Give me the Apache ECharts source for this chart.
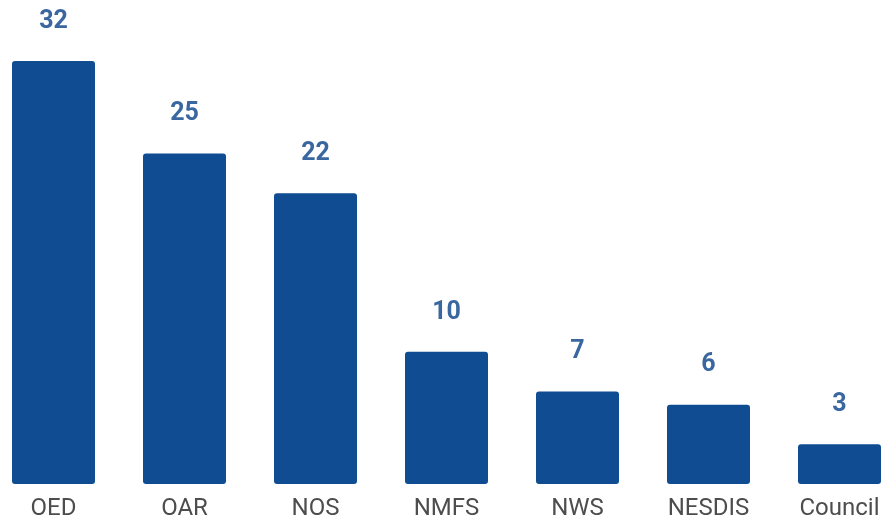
<!DOCTYPE html>
<html><head><meta charset="utf-8">
<script src="https://cdn.jsdelivr.net/npm/echarts@6/dist/echarts.min.js"></script>
<style>html,body{margin:0;padding:0;background:#fff;overflow:hidden;width:886px;height:525px}#c{width:917px;height:525px;margin-left:-12px}</style>
</head><body><div id="c"></div>
<script>
const categories = ["OED", "OAR", "NOS", "NMFS", "NWS", "NESDIS", "Council"];
const values = [32, 25, 22, 10, 7, 6, 3];
const chart = echarts.init(document.getElementById('c'));
chart.setOption({
  animation: false,
  grid: { left: 0, right: 0, top: 61, bottom: 41, containLabel: false },
  xAxis: {
    type: 'category', data: categories,
    axisLine: { show: false }, axisTick: { show: false },
    axisLabel: { color: '#4d4d4d', fontFamily: 'Roboto', fontSize: 24, margin: 13 }
  },
  yAxis: { type: 'value', min: 0, max: 32, show: false, splitLine: { show: false } },
  series: [{
    type: 'bar', data: values, barWidth: 83,
    itemStyle: { color: '#0f4c92', borderRadius: 3 },
    label: { show: true, position: 'top', distance: 27, color: '#3a67a0', fontFamily: 'Roboto', fontWeight: 'bold', fontSize: 25 }
  }]
});
</script></body></html>
